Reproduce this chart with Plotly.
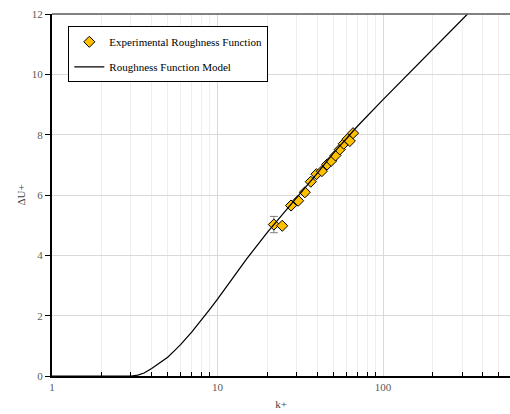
import plotly.graph_objects as go

# Experimental roughness function data
exp_k = [21.9, 24.6, 27.8, 30.7, 33.7, 36.6, 39.6, 42.7, 45.9, 48.6, 51.6, 54.8, 57.9, 61.0, 63.0, 65.9]
exp_du = [5.02, 4.98, 5.65, 5.81, 6.09, 6.44, 6.69, 6.79, 7.01, 7.13, 7.31, 7.51, 7.70, 7.85, 7.79, 8.05]
exp_err = [0.27, 0, 0, 0, 0, 0, 0, 0, 0, 0, 0, 0, 0, 0, 0, 0]

# Roughness function model curve
model_k = [1, 2, 3, 3.3, 3.6, 4, 4.5, 5, 5.5, 6, 7, 8, 9, 10, 12, 15, 20, 22, 25, 30, 40, 50, 70, 100, 140, 200, 324]
model_du = [0, 0, 0, 0.03, 0.10, 0.25, 0.43, 0.62, 0.84, 1.05, 1.46, 1.85, 2.22, 2.55, 3.15, 3.88, 4.76, 5.03, 5.37, 5.88, 6.72, 7.38, 8.28, 9.16, 9.97, 10.83, 12.0]

x_ticks = [1, 10, 100]
x_minor = [2, 3, 4, 5, 6, 7, 8, 9, 20, 30, 40, 50, 60, 70, 80, 90, 200, 300, 400, 500]
y_ticks = [0, 2, 4, 6, 8, 10, 12]

font_serif = "Liberation Serif"

fig = go.Figure()
fig.add_trace(go.Scatter(
    x=exp_k, y=exp_du, mode="markers", name="Experimental Roughness Function",
    marker=dict(symbol="diamond", size=8.5, color="#FFC000", line=dict(color="black", width=1)),
    error_y=dict(type="data", array=exp_err, visible=True, color="#7f7f7f", thickness=1, width=4),
    legendgroup="a",
))
fig.add_trace(go.Scatter(
    x=model_k, y=model_du, mode="lines", name="Roughness Function Model",
    line=dict(color="black", width=1.25),
    legendgroup="b",
))

fig.update_layout(
    width=510, height=414,
    margin=dict(l=52, r=0, t=14, b=38, autoexpand=False),
    paper_bgcolor="white", plot_bgcolor="white",
    font=dict(family=font_serif, size=11, color="#595959"),
    showlegend=True,
    legend=dict(
        x=0.0356, y=0.966, xanchor="left", yanchor="top",
        bgcolor="white", bordercolor="black", borderwidth=1,
        font=dict(family=font_serif, size=11, color="black"),
        tracegroupgap=6, traceorder="grouped",
    ),
    xaxis=dict(
        type="log", range=[0, 2.767], automargin=False,
        tickvals=x_ticks, ticktext=[str(v) for v in x_ticks],
        showgrid=True, gridcolor="#d9d9d9", gridwidth=1,
        minor=dict(tickvals=x_minor, showgrid=True, gridcolor="#eeeeee", gridwidth=1,
                   ticks="inside", ticklen=4, tickcolor="black"),
        showline=True, linecolor="black", linewidth=2,
        ticks="", zeroline=False,
        title=dict(text="k+", font=dict(family=font_serif, size=11, color="#404040"), standoff=8),
        tickfont=dict(family=font_serif, size=11, color="#595959"),
    ),
    yaxis=dict(
        range=[0, 12], tickvals=y_ticks, automargin=False,
        showgrid=True, gridcolor="#d9d9d9", gridwidth=1,
        showline=True, linecolor="black", linewidth=2,
        ticks="outside", ticklen=5, tickcolor="black",
        zeroline=False,
        title=dict(text="ΔU+", font=dict(family=font_serif, size=11, color="#404040"), standoff=4),
        tickfont=dict(family=font_serif, size=11, color="#595959"),
    ),
    shapes=[dict(type="line", xref="paper", yref="paper", x0=0, x1=1, y0=1, y1=1,
                 line=dict(color="#595959", width=1.5))],
)

fig.write_html("out.html", config={"displayModeBar": False},
               post_script="document.body.style.margin='0';document.body.style.padding='0';")
